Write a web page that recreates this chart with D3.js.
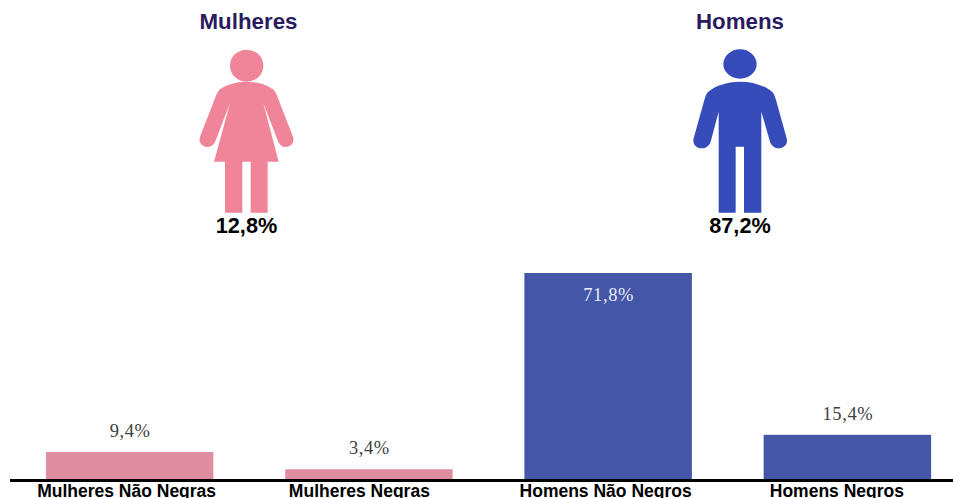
<!DOCTYPE html>
<html><head><meta charset="utf-8">
<script src="https://cdn.jsdelivr.net/npm/d3@7"></script>
<style>html,body{margin:0;padding:0;background:#fff;overflow:hidden}svg{display:block}</style>
</head><body><svg id="c" width="953" height="498"></svg>
<script>
const categories = ["Mulheres Não Negras","Mulheres Negras","Homens Não Negros","Homens Negros"];
const values = [9.4,3.4,71.8,15.4];
const valueLabels = ["9,4%","3,4%","71,8%","15,4%"];
const barColors = ["#df8ea2","#df8ea2","#4456a8","#4456a8"];
const groupNames = ["Mulheres","Homens"];
const groupShares = ["12,8%","87,2%"];
const groupColors = ["#f08499","#364cba"];

const womanBody = "M200 245C170 245 135 255 120 268C112 275 108 285 104 298L60 410C54 428 68 441 84 441C94 441 102 434 106 424L150 310L102 485H135V638H187V485H212V638H263V485H296L250 310L294 424C298 434 306 441 316 441C332 441 345 428 339 410L295 298C291 285 287 275 279 268C264 255 230 245 200 245Z";
const manBody = "M210 245C170 245 135 258 115 275C108 282 106 290 103 300L71 415C66 432 80 445 96 445C108 445 118 437 122 425L146 335V638H197V440H222V638H274V335L300 425C304 437 314 445 326 445C342 445 355 432 350 415L318 300C315 290 313 282 306 275C286 258 250 245 210 245Z";

const svg = d3.select("#c");
const x = d3.scaleBand().domain(categories).range([10,967]).paddingInner(0.3).paddingOuter(0.15);
const y = d3.scaleLinear().domain([0,71.8]).range([479,273]);

svg.selectAll("rect.bar").data(values).join("rect").attr("class","bar")
  .attr("x",(d,i)=>x(categories[i])).attr("width",x.bandwidth())
  .attr("y",d=>y(d)).attr("height",d=>y(0)-y(d))
  .attr("fill",(d,i)=>barColors[i]);

svg.append("rect").attr("x",10).attr("y",479).attr("width",943).attr("height",3).attr("fill","#000");

svg.selectAll("text.val").data(values).join("text").attr("class","val")
  .attr("x",(d,i)=>x(categories[i])+x.bandwidth()/2+0.5)
  .attr("y",(d,i)=> i===2 ? y(d)+28 : y(d)-15)
  .attr("text-anchor","middle")
  .attr("font-family","'Liberation Serif',serif").attr("font-size",18.5)
  .attr("letter-spacing",0.6)
  .attr("fill",(d,i)=> i===2 ? "#e8ecf8" : "#404040")
  .text((d,i)=>valueLabels[i]);

svg.selectAll("text.cat").data(categories).join("text").attr("class","cat")
  .attr("x",d=>x(d)+x.bandwidth()/2+ (d===categories[0]?-3:d===categories[1]?-9.5:d===categories[2]?-2.5:-10.5))
  .attr("y",497)
  .attr("text-anchor","middle")
  .attr("font-family","'Liberation Sans',Arial,sans-serif").attr("font-weight",700).attr("font-size",17.5)
  .attr("fill","#000").text(d=>d);

const offsets = [180,670];
const heads = [{cx:200,cy:197,rx:50,ry:48},{cx:210,cy:192,rx:50,ry:44}];
const bodies = [womanBody,manBody];
groupNames.forEach((name,i)=>{
  const g = svg.append("g").attr("transform",`translate(${offsets[i]},0) scale(${1/3})`);
  g.append("ellipse").attr("cx",heads[i].cx).attr("cy",heads[i].cy).attr("rx",heads[i].rx).attr("ry",heads[i].ry).attr("fill",groupColors[i]);
  g.append("path").attr("d",bodies[i]).attr("fill",groupColors[i]);
  svg.append("text").attr("x",[248.5,740][i]).attr("y",29).attr("text-anchor","middle")
    .attr("font-family","'Liberation Sans',Arial,sans-serif").attr("font-weight",700).attr("font-size",22.3)
    .attr("fill","#2a1a5e").text(name);
  svg.append("text").attr("x",[246.5,740][i]).attr("y",233).attr("text-anchor","middle")
    .attr("font-family","'Liberation Sans',Arial,sans-serif").attr("font-weight",700).attr("font-size",21.7)
    .attr("fill","#000").text(groupShares[i]);
});
</script></body></html>
